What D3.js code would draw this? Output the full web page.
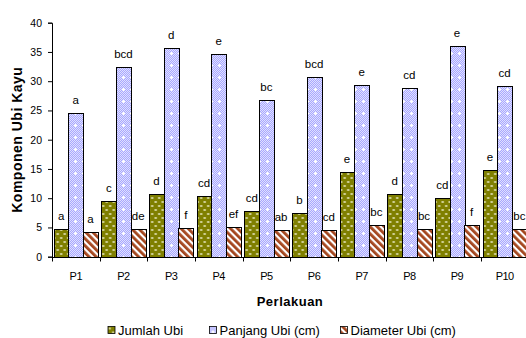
<!DOCTYPE html>
<html>
<head>
<meta charset="utf-8">
<script src="https://cdn.jsdelivr.net/npm/d3@7"></script>
<style>
  body { margin: 0; background: #fff; }
  svg { display: block; font-family: "Liberation Sans", Arial, sans-serif; }
</style>
</head>
<body>
<div id="chart"></div>
<script>
// categories and series
const categories = ["P1", "P2", "P3", "P4", "P5", "P6", "P7", "P8", "P9", "P10"];
const seriesNames = ["Jumlah Ubi", "Panjang Ubi (cm)", "Diameter Ubi (cm)"];

const jumlahUbi   = [4.7, 9.5, 10.7, 10.3, 7.8, 7.4, 14.4, 10.7, 10.0, 14.8];
const panjangUbi  = [24.5, 32.5, 35.6, 34.6, 26.8, 30.8, 29.4, 28.8, 36.0, 29.2];
const diameterUbi = [4.3, 4.7, 4.9, 5.1, 4.5, 4.5, 5.4, 4.7, 5.4, 4.7];

// significance letters
const jumlahLetters   = ["a", "c", "d", "cd", "cd", "b", "e", "d", "cd", "e"];
const panjangLetters  = ["a", "bcd", "d", "e", "bc", "bcd", "e", "cd", "e", "cd"];
const diameterLetters = ["a", "de", "f", "ef", "ab", "cd", "bc", "bc", "f", "bc"];

const yTicks = [0, 5, 10, 15, 20, 25, 30, 35, 40];

const width = 526, height = 338;
const margin = { top: 22.7, left: 52, bottom: 81.3 };

const svg = d3.select("#chart").append("svg")
  .attr("width", width)
  .attr("height", height);

// fill patterns
const defs = svg.append("defs");

let pG = defs.append("pattern").attr("id", "pat-green")
  .attr("patternUnits", "userSpaceOnUse").attr("width", 7).attr("height", 8);
pG.append("rect").attr("width", 7).attr("height", 8).attr("fill", "#7f7f00");
pG.append("ellipse").attr("cx", 1.7).attr("cy", 2).attr("rx", 1.6).attr("ry", 0.8).attr("fill", "#f0f0d0");
pG.append("ellipse").attr("cx", 5.2).attr("cy", 6).attr("rx", 1.6).attr("ry", 0.8).attr("fill", "#f0f0d0");

let pB = defs.append("pattern").attr("id", "pat-blue")
  .attr("patternUnits", "userSpaceOnUse").attr("width", 8).attr("height", 12);
pB.append("rect").attr("width", 8).attr("height", 12).attr("fill", "#a8a8ff");
for (let i = 0; i < 8; i++) {
  for (let j = 0; j < 12; j++) {
    if ((i + j) % 2 === 0) {
      pB.append("rect").attr("x", i).attr("y", j).attr("width", 1).attr("height", 1).attr("fill", "#e0e0ff");
    }
  }
}
pB.append("rect").attr("x", 3).attr("y", 4).attr("width", 1).attr("height", 3).attr("fill", "#fff");
pB.append("rect").attr("x", 2).attr("y", 5).attr("width", 3).attr("height", 1).attr("fill", "#fff");

let pR = defs.append("pattern").attr("id", "pat-red")
  .attr("patternUnits", "userSpaceOnUse").attr("width", 5).attr("height", 5)
  .attr("patternTransform", "rotate(-45)");
pR.append("rect").attr("width", 5).attr("height", 5).attr("fill", "#fff");
pR.append("rect").attr("width", 2.8).attr("height", 5).attr("fill", "#a4461e");

const fills = ["url(#pat-green)", "url(#pat-blue)", "url(#pat-red)"];

// scales
const x = d3.scaleBand()
  .domain(categories)
  .range([margin.left, margin.left + 47.65 * categories.length]);

const xInner = d3.scaleBand()
  .domain(seriesNames)
  .range([1.8, x.bandwidth() - 1.8]);

const y = d3.scaleLinear()
  .domain([0, 40])
  .range([height - margin.bottom, margin.top]);

// flat table of bars
const values = [jumlahUbi, panjangUbi, diameterUbi];
const letters = [jumlahLetters, panjangLetters, diameterLetters];
const bars = [];
categories.forEach((c, i) => {
  seriesNames.forEach((s, k) => {
    bars.push({ cat: c, series: s, k: k, value: values[k][i], letter: letters[k][i] });
  });
});
const barX = d => Math.round(x(d.cat) + xInner(d.series)) + 0.5;

svg.append("g").selectAll("rect")
  .data(bars)
  .join("rect")
  .attr("x", barX)
  .attr("y", d => Math.round(y(d.value)) + 0.5)
  .attr("width", Math.round(xInner.bandwidth()))
  .attr("height", d => Math.round(y(0)) - Math.round(y(d.value)))
  .attr("fill", d => fills[d.k])
  .attr("stroke", "#000")
  .attr("stroke-width", 1);

svg.append("g").selectAll("text")
  .data(bars)
  .join("text")
  .attr("x", d => x(d.cat) + xInner(d.series) + xInner.bandwidth() / 2)
  .attr("y", d => y(d.value) - 9)
  .attr("text-anchor", "middle")
  .attr("font-size", 11.5)
  .attr("fill", "#000")
  .text(d => d.letter);

// y axis
const yAxis = d3.axisLeft(y).tickValues(yTicks).tickSize(4).tickPadding(6);
svg.append("g")
  .attr("transform", "translate(" + margin.left + ",0)")
  .call(yAxis)
  .call(g => g.selectAll("text").attr("font-size", 10.5).attr("fill", "#000").attr("font-family", "Liberation Sans, Arial, sans-serif"))
  .call(g => g.selectAll("line").attr("stroke", "#000"))
  .call(g => g.select(".domain").attr("stroke", "#000"));

// x axis: line, boundary ticks, category labels
const xg = svg.append("g").attr("transform", "translate(0," + (Math.round(y(0)) + 0.5) + ")");
xg.append("line")
  .attr("x1", margin.left).attr("x2", width)
  .attr("stroke", "#000");
xg.selectAll(".tk")
  .data(categories)
  .join("line")
  .attr("class", "tk")
  .attr("x1", d => Math.round(x(d)) + 0.5).attr("x2", d => Math.round(x(d)) + 0.5)
  .attr("y1", 0).attr("y2", 4)
  .attr("stroke", "#000");
xg.selectAll(".lbl")
  .data(categories)
  .join("text")
  .attr("class", "lbl")
  .attr("x", d => x(d) + x.bandwidth() / 2)
  .attr("y", 22)
  .attr("text-anchor", "middle")
  .attr("font-size", 11)
  .attr("letter-spacing", -0.5)
  .text(d => d);

// axis titles
svg.append("text")
  .attr("x", 290).attr("y", 306)
  .attr("text-anchor", "middle")
  .attr("font-size", 13).attr("font-weight", "bold")
  .attr("letter-spacing", 0.5)
  .text("Perlakuan");

svg.append("text")
  .attr("transform", "translate(22," + ((y(0) + y(40)) / 2) + ") rotate(-90)")
  .attr("text-anchor", "middle")
  .attr("font-size", 14).attr("font-weight", "bold")
  .attr("letter-spacing", 0.5)
  .text("Komponen Ubi Kayu");

// legend
const legendX = [108, 209.5, 340.5];
const legend = svg.append("g").selectAll("g")
  .data(seriesNames)
  .join("g")
  .attr("transform", (d, i) => "translate(" + legendX[i] + ",326.5)");
legend.append("rect")
  .attr("width", 7).attr("height", 7)
  .attr("fill", (d, i) => fills[i])
  .attr("stroke", "#000").attr("stroke-width", 0.8);
legend.append("text")
  .attr("x", 10).attr("y", 8)
  .attr("font-size", 13)
  .text(d => d);
</script>
</body>
</html>
